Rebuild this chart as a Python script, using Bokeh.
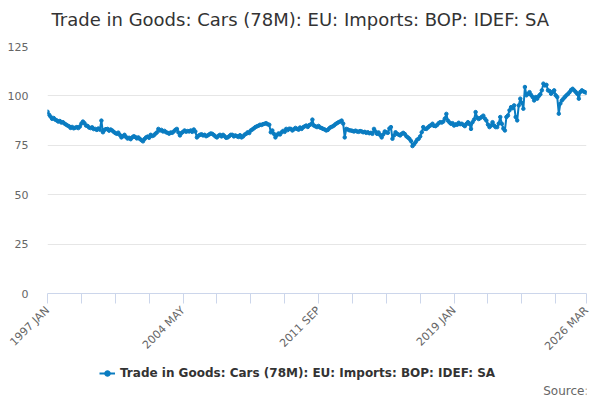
from bokeh.embed import file_html
from bokeh.layouts import column
from bokeh.models import FixedTicker, Label, Legend, LegendItem, Range1d
from bokeh.plotting import figure
from bokeh.resources import INLINE

title = "Trade in Goods: Cars (78M): EU: Imports: BOP: IDEF: SA"
start_year = 1997
months = ["JAN", "FEB", "MAR", "APR", "MAY", "JUN",
          "JUL", "AUG", "SEP", "OCT", "NOV", "DEC"]

# monthly index values, Jan 1997 - Mar 2026, one row per year
values = [
    92.0, 90.5, 89.5, 88.4, 88.8, 88.0, 87.6, 87.0, 87.3, 86.5, 86.7, 86.0,
    85.5, 85.0, 84.6, 83.8, 84.3, 83.6, 83.9, 84.2, 83.7, 84.5, 86.0, 87.0,
    86.2, 85.0, 84.8, 84.0, 83.7, 84.1, 83.2, 83.3, 82.8, 83.5, 82.9, 87.5,
    81.6, 82.8, 83.2, 83.3, 82.4, 83.0, 82.5, 81.8, 81.2, 80.8, 81.4, 80.2,
    79.0, 79.6, 80.3, 79.2, 78.4, 78.8, 78.1, 79.0, 79.6, 79.2, 78.5, 79.0,
    78.2, 77.6, 77.0, 78.2, 79.0, 79.4, 78.8, 80.3, 79.7, 80.0, 80.8, 81.5,
    83.3, 82.5, 82.8, 82.0, 82.3, 81.6, 81.3, 80.9, 81.5, 81.3, 82.0, 82.8,
    83.3, 81.5, 80.0, 81.2, 81.8, 82.5, 81.9, 82.2, 82.0, 82.5, 81.8, 83.0,
    82.0, 79.0, 79.8, 80.3, 80.6, 80.0, 80.3, 79.6, 80.0, 80.5, 81.0, 80.8,
    80.2, 79.5, 79.0, 79.8, 80.3, 79.5, 80.3, 79.6, 78.8, 79.0, 79.6, 80.3,
    80.3, 79.5, 80.0, 79.6, 79.2, 80.1, 79.0, 79.5, 80.4, 80.8, 81.6, 81.2,
    82.5, 83.0, 83.6, 84.2, 84.6, 84.9, 85.4, 85.3, 85.7, 85.9, 86.2, 85.6,
    85.4, 81.6, 82.5, 80.8, 79.0, 80.2, 81.0, 80.5, 81.6, 82.3, 81.8, 83.3,
    82.7, 83.4, 83.3, 82.5, 83.1, 83.8, 83.3, 82.9, 84.0, 83.3, 84.1, 84.6,
    85.0, 84.3, 85.2, 85.6, 88.0, 85.0, 84.6, 84.2, 84.8, 84.0, 83.7, 83.3,
    83.0, 82.5, 82.8, 83.6, 84.2, 84.5, 85.0, 85.7, 86.2, 86.7, 87.0, 87.5,
    86.0, 79.0, 83.3, 83.0, 82.6, 82.5, 82.3, 82.0, 82.4, 82.0, 81.8, 82.2,
    82.0, 81.6, 81.8, 81.3, 81.6, 81.1, 81.3, 80.8, 83.3, 82.0, 80.8, 81.5,
    80.2, 79.0, 80.5, 82.0, 81.6, 81.3, 83.5, 84.2, 78.3, 80.0, 81.6, 80.8,
    80.4, 80.0, 80.8, 81.3, 80.7, 79.6, 79.0, 78.3, 77.2, 74.6, 75.5, 76.6,
    77.8, 78.3, 79.5, 81.6, 84.2, 83.3, 83.3, 84.0, 84.7, 85.2, 85.9, 84.8,
    84.7, 85.3, 86.2, 86.7, 86.5, 87.0, 88.5, 90.9, 87.5, 86.6, 85.9, 86.2,
    85.0, 85.6, 85.4, 86.4, 85.7, 85.9, 85.3, 84.7, 85.8, 86.7, 85.8, 83.3,
    86.7, 88.0, 91.8, 89.0, 88.3, 88.8, 89.4, 90.0, 88.5, 87.5, 85.5, 84.2,
    85.0, 86.7, 85.0, 84.2, 84.2, 86.0, 89.3, 85.9, 83.5, 82.5, 89.3, 90.1,
    92.7, 94.3, 93.8, 95.2, 89.3, 87.6, 95.2, 98.6, 96.5, 93.5, 104.5, 100.3,
    101.0, 101.9, 100.5, 99.4, 97.7, 99.4, 98.6, 99.9, 100.8, 102.8, 106.2, 105.3,
    105.6, 102.8, 102.5, 101.1, 102.0, 102.8, 100.3, 99.4, 91.0, 96.1, 97.7, 98.6,
    99.5, 100.3, 101.0, 101.9, 103.0, 103.6, 102.8, 102.0, 101.1, 98.6, 102.0, 102.8,
    102.3, 101.9, 101.6,
]
labels = [f"{start_year + i // 12} {months[i % 12]}" for i in range(len(values))]
y_ticks = [0, 25, 50, 75, 100, 125]

font = "DejaVu Sans"
blue = "#0a7cc1"
x = list(range(len(values)))
last = len(values) - 1


def strip(height):
    # a bare band with the same side borders as the chart, for texts
    s = figure(width=600, height=height, output_backend="svg",
               toolbar_location=None, min_border_left=47,
               min_border_right=14, min_border_top=0, min_border_bottom=0,
               x_range=Range1d(0, 1), y_range=Range1d(0, 1),
               x_axis_location=None, y_axis_location=None)
    s.outline_line_color = None
    s.grid.visible = False
    return s


head = strip(38)
head.add_layout(Label(x=4, y=19, x_units="screen", y_units="screen",
                      text=title, text_align="left", text_baseline="middle",
                      text_font=font, text_font_size="18px",
                      text_color="#333333"))

p = figure(frame_width=539, frame_height=247,
           output_backend="svg", toolbar_location=None,
           x_range=Range1d(0, last), y_range=Range1d(0, 125),
           min_border_left=47, min_border_right=14,
           min_border_top=8, min_border_bottom=72)
p.outline_line_color = None

p.line(x, values, line_color=blue, line_width=2)
p.scatter(x, values, size=3.5, fill_color=blue, line_color=blue)

# one category tick every 22 months, label every fourth plus the last one
x_ticks = list(range(0, last, 22)) + [last]
p.xaxis.ticker = FixedTicker(ticks=x_ticks)
p.xaxis.major_label_overrides = {
    t: (labels[t] if t % 88 == 0 or t == last else "") for t in x_ticks}
p.xaxis.major_label_orientation = 0.785
p.xaxis.axis_line_color = "#ccd6eb"
p.xaxis.major_tick_line_color = "#ccd6eb"
p.xaxis.major_tick_in = 0
p.xaxis.major_tick_out = 10
p.xaxis.minor_tick_line_color = None
p.xaxis.major_label_text_font = font
p.xaxis.major_label_text_font_size = "11px"
p.xaxis.major_label_text_color = "#666666"
p.xaxis.major_label_standoff = 5
p.xgrid.grid_line_color = None

p.yaxis.ticker = FixedTicker(ticks=y_ticks)
p.yaxis.axis_line_color = None
p.yaxis.major_tick_line_color = None
p.yaxis.minor_tick_line_color = None
p.yaxis.major_label_text_font = font
p.yaxis.major_label_text_font_size = "11px"
p.yaxis.major_label_text_color = "#666666"
p.yaxis.major_label_standoff = 13
p.ygrid.grid_line_color = "#e6e6e6"

# legend row and source note in a strip under the chart; the key glyphs
# get the first readings, which fall outside this strip's range
foot = strip(35)
key_line = foot.line(x[:2], values[:2], line_color=blue, line_width=2)
key_dot = foot.scatter(x[:2], values[:2], size=3.5,
                       fill_color=blue, line_color=blue)

legend = Legend(items=[LegendItem(label=title, renderers=[key_line, key_dot])],
                location=(52, 20), orientation="horizontal",
                border_line_color=None, background_fill_alpha=0,
                margin=0, padding=0, glyph_width=16, glyph_height=14,
                label_height=14, label_standoff=5,
                label_text_font=font, label_text_font_size="12px",
                label_text_font_style="bold", label_text_color="#333333")
foot.add_layout(legend, "center")

foot.add_layout(Label(x=541, y=10, x_units="screen", y_units="screen",
                      text="Source:", text_align="right",
                      text_baseline="middle", text_font=font,
                      text_font_size="12px", text_color="#666666"))

layout = column(head, p, foot, spacing=0)
open("out.html", "w").write(file_html(layout, INLINE))
